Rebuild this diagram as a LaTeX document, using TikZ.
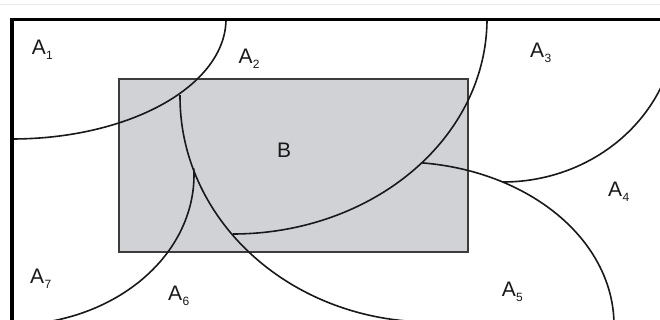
\documentclass[tikz,border=0pt]{standalone}
\usepackage{fontspec}
\setmainfont{Liberation Sans}
\definecolor{bfill}{RGB}{208,210,214}
\definecolor{bedge}{RGB}{60,60,60}
\definecolor{curvecol}{RGB}{25,25,25}
\newcommand\Alab[1]{A\kern0.3pt\raisebox{-5pt}{\fontsize{12}{12}\selectfont #1}}
\begin{document}
\begin{tikzpicture}[x=1pt,y=-1pt,
  curveline/.style={draw=curvecol, line width=1.6pt},
  lab/.style={anchor=base west, inner sep=0pt, font=\fontsize{21}{21}\selectfont, text=black!90}]
\useasboundingbox (0,0) rectangle (660,320);
\clip (0,0) rectangle (660,320);
\fill[white] (0,0) rectangle (660,320);
\draw[black!8, line width=1pt] (0,5) -- (660,5);
% set B
\draw[fill=bfill, draw=bedge, line width=1.4pt] (119,79) rectangle (468,252);
% curve A1 | A2
\draw[curveline] plot[domain=0:90, samples=80] ({12+214*cos(\x)}, {19+120*sin(\x)});
% curve A2 | A3
\draw[curveline] plot[domain=0:90, samples=80] ({233+254*cos(\x)}, {19+215*sin(\x)});
% curve A3 | A4
\draw[curveline] plot[domain=0:90, samples=80] ({503+174*cos(\x)}, {19+163*sin(\x)});
% curve A4 | A5
\draw[curveline] plot[domain=-84.1:8, samples=80] ({400+214*cos(\x)}, {325+163*sin(\x)});
% curve A6 | A5
\draw[curveline] plot[domain=90:180.5, samples=90] ({430+250*cos(\x)}, {97+225*sin(\x)});
% curve A7 | A6
\draw[curveline] plot[domain=-2.5:82, samples=80] ({10+184*cos(\x)}, {175+150*sin(\x)});
% frame
\draw[black, line width=3.2pt] (12,330) -- (12,19.5) -- (670,19.5);
% labels
\node[lab] (a1) at (31.7,55) {\Alab{1}};
\node[lab] (a2) at (238.3,63.3) {\Alab{2}};
\node[lab] (a3) at (530,57.3) {\Alab{3}};
\node[lab] (a4) at (608,196.7) {\Alab{4}};
\node[lab] (a5) at (501.7,296.7) {\Alab{5}};
\node[lab] (a6) at (168,300) {\Alab{6}};
\node[lab] (a7) at (30,283.3) {\Alab{7}};
\node[font=\fontsize{21}{21}\selectfont, text=black!90, inner sep=0pt] (b) at (284,150) {B};
\end{tikzpicture}
\end{document}
